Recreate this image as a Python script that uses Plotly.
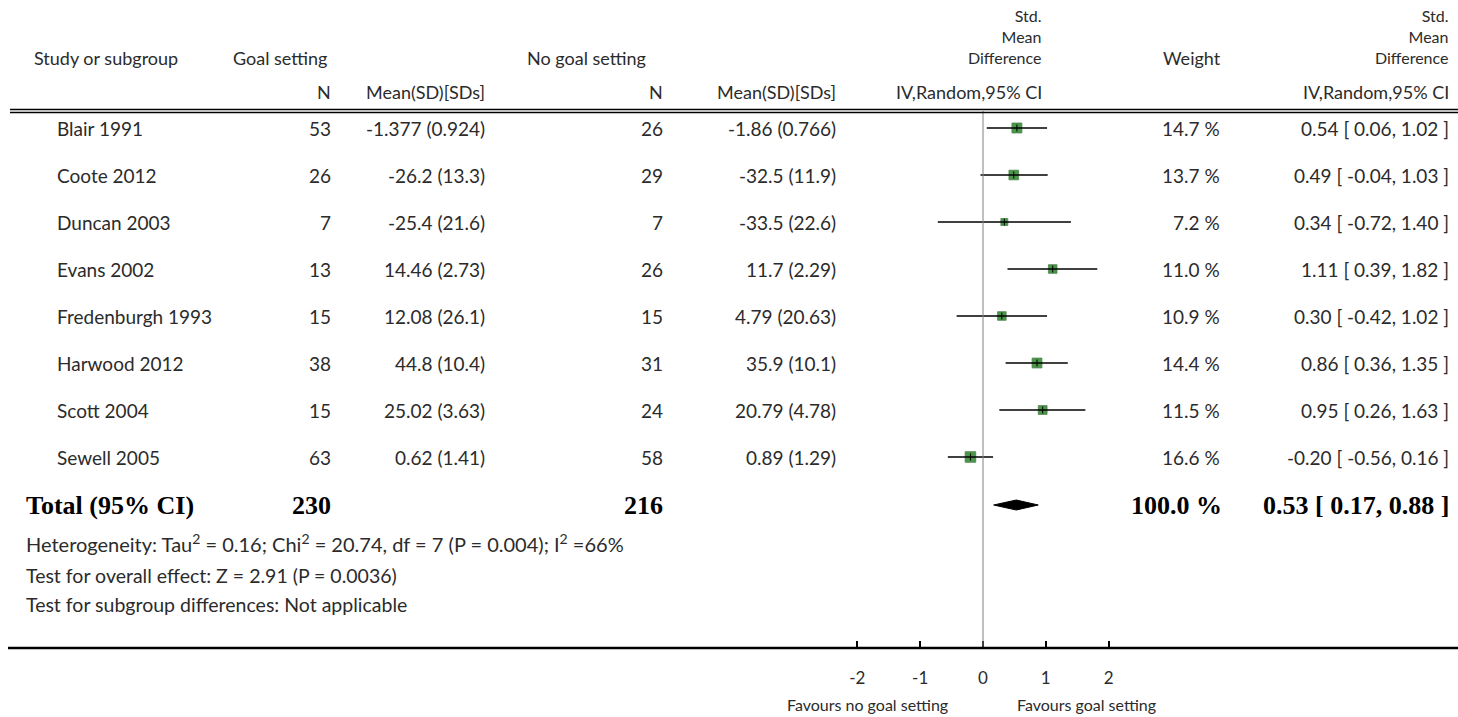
import math
import plotly.graph_objects as go

# ---------------- data ----------------
studies = ["Blair 1991", "Coote 2012", "Duncan 2003", "Evans 2002",
           "Fredenburgh 1993", "Harwood 2012", "Scott 2004", "Sewell 2005"]
n_goal = [53, 26, 7, 13, 15, 38, 15, 63]
mean_goal = [-1.377, -26.2, -25.4, 14.46, 12.08, 44.8, 25.02, 0.62]
sd_goal = [0.924, 13.3, 21.6, 2.73, 26.1, 10.4, 3.63, 1.41]
n_nogoal = [26, 29, 7, 26, 15, 31, 24, 58]
mean_nogoal = [-1.86, -32.5, -33.5, 11.7, 4.79, 35.9, 20.79, 0.89]
sd_nogoal = [0.766, 11.9, 22.6, 2.29, 20.63, 10.1, 4.78, 1.29]
weight = [14.7, 13.7, 7.2, 11.0, 10.9, 14.4, 11.5, 16.6]
smd = [0.54, 0.49, 0.34, 1.11, 0.30, 0.86, 0.95, -0.20]
ci_lo = [0.06, -0.04, -0.72, 0.39, -0.42, 0.36, 0.26, -0.56]
ci_hi = [1.02, 1.03, 1.40, 1.82, 1.02, 1.35, 1.63, 0.16]

total_n_goal = 230
total_n_nogoal = 216
total_weight = 100.0
total_smd = 0.53
total_lo = 0.17
total_hi = 0.88

axis_ticks = [-2, -1, 0, 1, 2]
het_text = ("Heterogeneity: Tau<sup>2</sup> = 0.16; Chi<sup>2</sup> = 20.74, df = 7 "
            "(P = 0.004); I<sup>2</sup> =66%")
overall_text = "Test for overall effect: Z = 2.91 (P = 0.0036)"
subgroup_text = "Test for subgroup differences: Not applicable"
favours_left = "Favours no goal setting"
favours_right = "Favours goal setting"

# ---------------- layout constants ----------------
W, H = 1458, 717
ZERO_PX, UNIT_PX = 983, 62.8
row_y0, row_dy = 128, 47
rows_y = [row_y0 + i * row_dy for i in range(len(studies))]
total_y = 505
header_line_y = 111
axis_y = 648

SANS = "Lato, 'Open Sans', sans-serif"
SERIF = "'Liberation Serif', 'Times New Roman', serif"
FS = 19
HFS = 18
TXT = "#2b2b2b"

fig = go.Figure()

# forest plot: squares, CI lines, centre ticks
sizes = [2.6 * math.sqrt(w) for w in weight]
fig.add_trace(go.Scatter(
    x=smd, y=rows_y, mode="markers",
    marker=dict(symbol="square", size=sizes, color="#006a00",
                line=dict(color="#005200", width=0.8)),
    hoverinfo="skip", showlegend=False))
for lo, hi, y in zip(ci_lo, ci_hi, rows_y):
    fig.add_trace(go.Scatter(x=[lo, hi], y=[y, y], mode="lines",
                             line=dict(color="black", width=1.3),
                             hoverinfo="skip", showlegend=False))
fig.add_trace(go.Scatter(
    x=smd, y=rows_y, mode="markers",
    marker=dict(symbol="line-ns", size=5, line=dict(color="black", width=1)),
    hoverinfo="skip", showlegend=False))

# pooled diamond
dh = 5
fig.add_trace(go.Scatter(
    x=[total_lo, total_smd, total_hi, total_smd, total_lo],
    y=[total_y, total_y - dh, total_y, total_y + dh, total_y],
    mode="lines", fill="toself", fillcolor="black",
    line=dict(color="black", width=1), hoverinfo="skip", showlegend=False))

shapes = []
shapes.append(dict(type="line", xref="x", yref="y", x0=0, x1=0,
                   y0=header_line_y, y1=axis_y,
                   line=dict(color="#808080", width=1)))
for dy in (-1.5, 1.5):
    shapes.append(dict(type="line", xref="paper", yref="y", x0=10 / W, x1=1,
                       y0=header_line_y + dy, y1=header_line_y + dy,
                       line=dict(color="black", width=1.3)))
shapes.append(dict(type="line", xref="paper", yref="y", x0=8 / W, x1=1,
                   y0=axis_y, y1=axis_y, line=dict(color="black", width=2.6)))

ann = []


def txt(px, py, s, anchor="right", font=SANS, size=FS, color=TXT):
    ann.append(dict(x=px / W, y=py, xref="paper", yref="y", text=s,
                    showarrow=False, xanchor=anchor, yanchor="middle",
                    font=dict(family=font, size=size, color=color),
                    align=anchor))


# column positions (px)
C_LEFT = 24
C_STUDY = 55
C_N1 = 333
C_M1 = 487
C_N2 = 665
C_M2 = 838
C_SMD = 1044
C_W = 1222
C_CI = 1451

# headers
hy1, hy2 = 58, 92
txt(C_LEFT + 8, hy1, "Study or subgroup", "left", size=HFS)
txt(231, hy1, "Goal setting", "left", size=HFS)
txt(648, hy1, "No goal setting", "right", size=HFS)
txt(C_N1, hy2, "N", size=HFS)
txt(C_M1, hy2, "Mean(SD)[SDs]", size=HFS)
txt(C_N2, hy2, "N", size=HFS)
txt(C_M2, hy2, "Mean(SD)[SDs]", size=HFS)
for cx in (C_SMD, C_CI):
    ann.append(dict(x=cx / W, y=hy1 + 11, xref="paper", yref="y",
                    text="Std.<br>Mean<br>Difference", showarrow=False,
                    xanchor="right", yanchor="bottom", align="right",
                    font=dict(family=SANS, size=16, color=TXT)))
    txt(cx, hy2, "IV,Random,95% CI", size=HFS)
txt(1192, hy1, "Weight", "center", size=HFS)

# study rows
for i, y in enumerate(rows_y):
    txt(C_STUDY, y, studies[i], "left")
    txt(C_N1, y, str(n_goal[i]))
    txt(C_M1, y, f"{mean_goal[i]} ({sd_goal[i]})")
    txt(C_N2, y, str(n_nogoal[i]))
    txt(C_M2, y, f"{mean_nogoal[i]} ({sd_nogoal[i]})")
    txt(C_W, y, f"{weight[i]:.1f} %")
    txt(C_CI, y, f"{smd[i]:.2f} [ {ci_lo[i]:.2f}, {ci_hi[i]:.2f} ]")

# total row
TS = 26
txt(C_LEFT, total_y, "<b>Total (95% CI)</b>", "left", SERIF, TS, "black")
txt(C_N1, total_y, f"<b>{total_n_goal}</b>", "right", SERIF, TS, "black")
txt(C_N2, total_y, f"<b>{total_n_nogoal}</b>", "right", SERIF, TS, "black")
txt(C_W + 2, total_y, f"<b>{total_weight:.1f} %</b>", "right", SERIF, TS, "black")
txt(C_CI, total_y, f"<b>{total_smd:.2f} [ {total_lo:.2f}, {total_hi:.2f} ]</b>",
    "right", SERIF, TS, "black")

txt(C_LEFT, 543, het_text, "left", size=20)
txt(C_LEFT, 575, overall_text, "left", size=19.5)
txt(C_LEFT, 604, subgroup_text, "left", size=19.5)

txt(950, 704, favours_left, "right", size=16)
txt(1015, 704, favours_right, "left", size=16)

fig.update_layout(
    width=W, height=H, margin=dict(l=0, r=0, t=0, b=0),
    paper_bgcolor="white", plot_bgcolor="white",
    shapes=shapes, annotations=ann, showlegend=False,
    xaxis=dict(range=[-ZERO_PX / UNIT_PX, (W - ZERO_PX) / UNIT_PX],
               domain=[0, 1], anchor="free", position=1 - axis_y / H,
               showgrid=False, zeroline=False, showline=False,
               tickmode="array", tickvals=axis_ticks,
               ticktext=[str(t) for t in axis_ticks],
               ticks="inside", ticklen=7, tickwidth=1.5, tickcolor="black",
               ticklabelstandoff=18,
               tickfont=dict(family=SANS, size=17, color=TXT),
               fixedrange=True),
    yaxis=dict(range=[H, 0], domain=[0, 1], visible=False, fixedrange=True),
)

fig.write_html("out.html", config={"displayModeBar": False},
               post_script="document.body.style.margin='0px';")
